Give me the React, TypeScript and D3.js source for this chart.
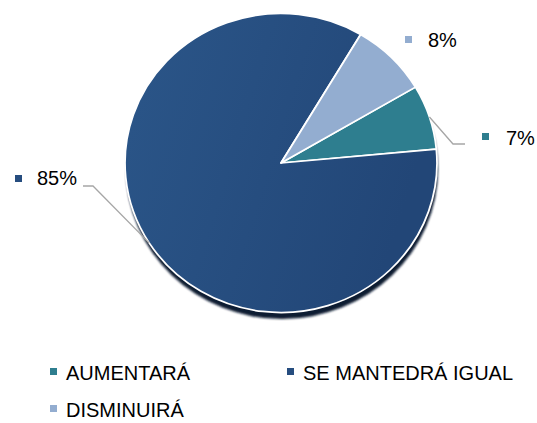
import React from "react";
import * as d3 from "d3";

// data
const categories = ["AUMENTARÁ", "SE MANTEDRÁ IGUAL", "DISMINUIRÁ"];
const shares = [7, 85, 8];
const labels = ["7%", "85%", "8%"];
const colors = ["#2e7e8f", "url(#darkGrad)", "#93add0"];
const swatch = ["#2e7e8f", "#264d7f", "#93add0"];

const W = 537;
const H = 423;
const cx = 281;
const cy = 163;
const rx = 156;
const ry = 149.5;
const font = "'Liberation Sans', Arial, sans-serif";

// label spots (text anchor start), per category
const labelPos = [
  { x: 506, y: 145, mx: 482, my: 133, leader: [[453, 144], [465, 144]] },
  { x: 37, y: 185, mx: 15, my: 175, leader: [[93, 186], [83, 186]] },
  { x: 428, y: 47, mx: 405, my: 36, leader: null },
];

const legendPos = [
  { x: 50, y: 380 },
  { x: 287, y: 380 },
  { x: 50, y: 417 },
];

function edgePoint(angle: number) {
  // d3 angle: clockwise from 12 o'clock
  return [cx + rx * Math.sin(angle), cy - ry * Math.cos(angle)];
}

export default function App() {
  const start = (59.5 * Math.PI) / 180;
  const pie = d3
    .pie<number>()
    .sort(null)
    .value((d) => d)
    .startAngle(start)
    .endAngle(start + 2 * Math.PI);
  const arcs = pie(shares);
  const arc = d3.arc<d3.PieArcDatum<number>>().innerRadius(0).outerRadius(rx);
  const full = d3.arc()({ innerRadius: 0, outerRadius: rx, startAngle: 0, endAngle: 2 * Math.PI } as any);
  const line = d3.line();

  return (
    <svg
      width={W}
      height={H}
      style={{ position: "absolute", left: 0, top: 0, display: "block" }}
    >
      <defs>
        <linearGradient id="darkGrad" x1="0" y1="0" x2="1" y2="0.3">
          <stop offset="0" stopColor="#2b5689" />
          <stop offset="1" stopColor="#224677" />
        </linearGradient>
        <filter id="blur" x="-10%" y="-10%" width="120%" height="120%">
          <feGaussianBlur stdDeviation="1.2" />
        </filter>
      </defs>

      {/* shadow under the pie */}
      <g transform={`translate(${cx + 1},${cy + 6.5}) scale(1,${ry / rx})`}>
        <path d={full || ""} fill="#0b1a30" filter="url(#blur)" />
      </g>

      <g transform={`translate(${cx},${cy}) scale(1,${ry / rx})`}>
        {arcs.map((a, i) => (
          <path
            key={categories[i]}
            d={arc(a) || ""}
            fill={colors[i]}
            stroke="#ffffff"
            strokeWidth={1.8}
            strokeLinejoin="round"
          />
        ))}
      </g>

      {/* data labels */}
      {arcs.map((a, i) => {
        const p = labelPos[i];
        const mid = (a.startAngle + a.endAngle) / 2;
        const pts: [number, number][] | null = p.leader
          ? ([edgePoint(mid), ...p.leader] as [number, number][])
          : null;
        return (
          <g key={"lbl" + i}>
            {pts && (
              <path d={line(pts) || ""} fill="none" stroke="#a6a6a6" strokeWidth={1.3} />
            )}
            <rect x={p.mx} y={p.my} width={7} height={7} fill={swatch[i]} />
            <text x={p.x} y={p.y} fontFamily={font} fontSize={20} fill="#000">
              {labels[i]}
            </text>
          </g>
        );
      })}

      {/* legend */}
      {categories.map((c, i) => {
        const p = legendPos[i];
        return (
          <g key={"leg" + i}>
            <rect x={p.x} y={p.y - 12} width={7} height={7} fill={swatch[i]} />
            <text x={p.x + 16} y={p.y} fontFamily={font} fontSize={20} fill="#000">
              {c}
            </text>
          </g>
        );
      })}
    </svg>
  );
}
